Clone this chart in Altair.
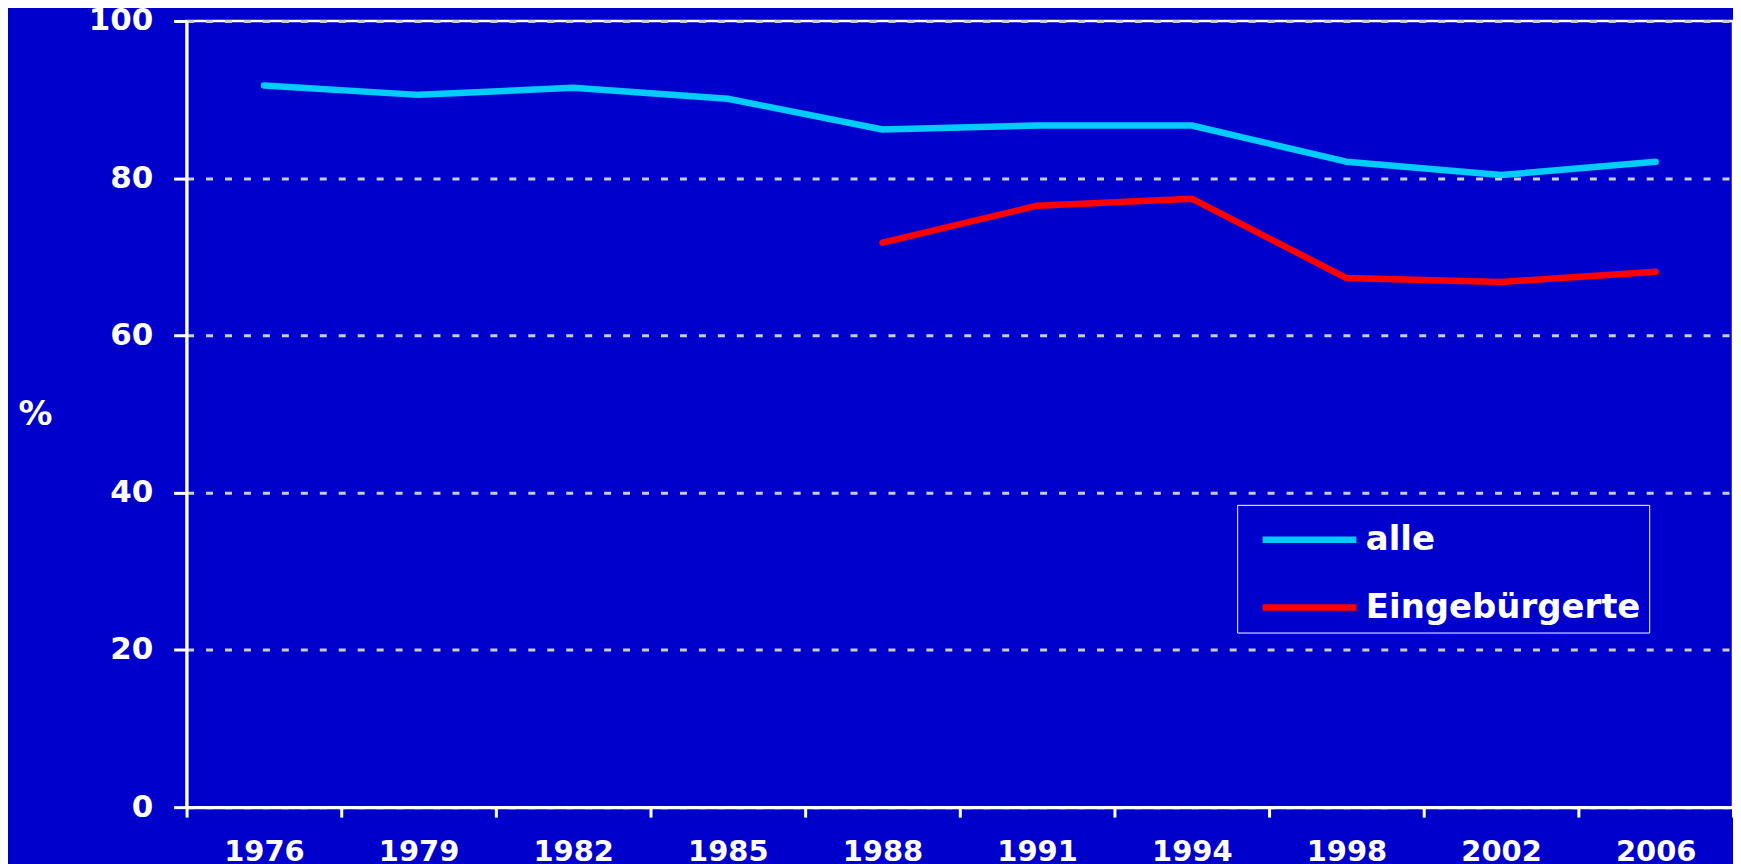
import altair as alt
import pandas as pd

years = ["1976", "1979", "1982", "1985", "1988", "1991", "1994", "1998", "2002", "2006"]
alle = [91.8, 90.6, 91.5, 90.1, 86.2, 86.7, 86.7, 82.1, 80.4, 82.1]
eingebuergerte = [None, None, None, None, 71.8, 76.5, 77.4, 67.3, 66.8, 68.1]
series_names = ["alle", "Eingebürgerte"]
series_colors = ["#00CCFF", "#FF0000"]
y_ticks = [0, 20, 40, 60, 80, 100]

rows = []
for name, vals in zip(series_names, [alle, eingebuergerte]):
    for yr, v in zip(years, vals):
        if v is not None:
            rows.append({"Jahr": yr, "Wert": v, "Serie": name})
df = pd.DataFrame(rows)

FONT = "DejaVu Sans"
BG = "#0000CC"

chart = (
    alt.Chart(df)
    .mark_line(strokeWidth=6.5, strokeCap="round", strokeJoin="round")
    .encode(
        x=alt.X(
            "Jahr:O",
            sort=years,
            scale=alt.Scale(type="band", paddingInner=0, paddingOuter=0),
            axis=alt.Axis(
                title=None,
                labelAngle=0,
                tickBand="extent",
                tickSize=10,
                tickWidth=3,
                tickColor="white",
                domainColor="white",
                domainWidth=3,
                labelColor="white",
                labelFont=FONT,
                labelFontWeight="bold",
                labelFontSize=29,
                labelPadding=20,
                grid=False,
            ),
        ),
        y=alt.Y(
            "Wert:Q",
            scale=alt.Scale(domain=[0, 100], nice=False),
            axis=alt.Axis(
                title="%",
                titleAngle=0,
                titleX=-152,
                titleY=394,
                titleAlign="center",
                titleBaseline="middle",
                titleColor="white",
                titleFont=FONT,
                titleFontWeight="bold",
                titleFontSize=34,
                values=y_ticks,
                tickSize=13,
                tickWidth=3,
                tickColor="white",
                domainColor="white",
                domainWidth=3,
                labelColor="white",
                labelFont=FONT,
                labelFontWeight="bold",
                labelFontSize=31,
                labelPadding=21,
                grid=True,
                gridColor="#CCCCCC",
                gridWidth=3,
                gridDash=[7, 12],
            ),
        ),
        color=alt.Color(
            "Serie:N",
            sort=series_names,
            scale=alt.Scale(domain=series_names, range=series_colors),
            legend=alt.Legend(
                title=None,
                orient="none",
                legendX=1053,
                legendY=485,
                symbolType="M-1,0H3",
                symbolSize=2209,
                symbolStrokeWidth=6.5,
                symbolOffset=14,
                labelColor="white",
                labelFont=FONT,
                labelFontWeight="bold",
                labelFontSize=34,
                labelOffset=53,
                rowPadding=24,
                padding=8,
                strokeColor="white",
                labelLimit=500,
            ),
        ),
    )
    .properties(
        width=1550,
        height=788,
        background=BG,
        padding={"left": 179, "top": 12, "right": 0, "bottom": 56},
        autosize=alt.AutoSizeParams(type="none"),
    )
    .configure_view(stroke="white", strokeWidth=2.5, fill=BG)
)

chart.save("out.html", embed_options={"renderer": "svg", "actions": False})
